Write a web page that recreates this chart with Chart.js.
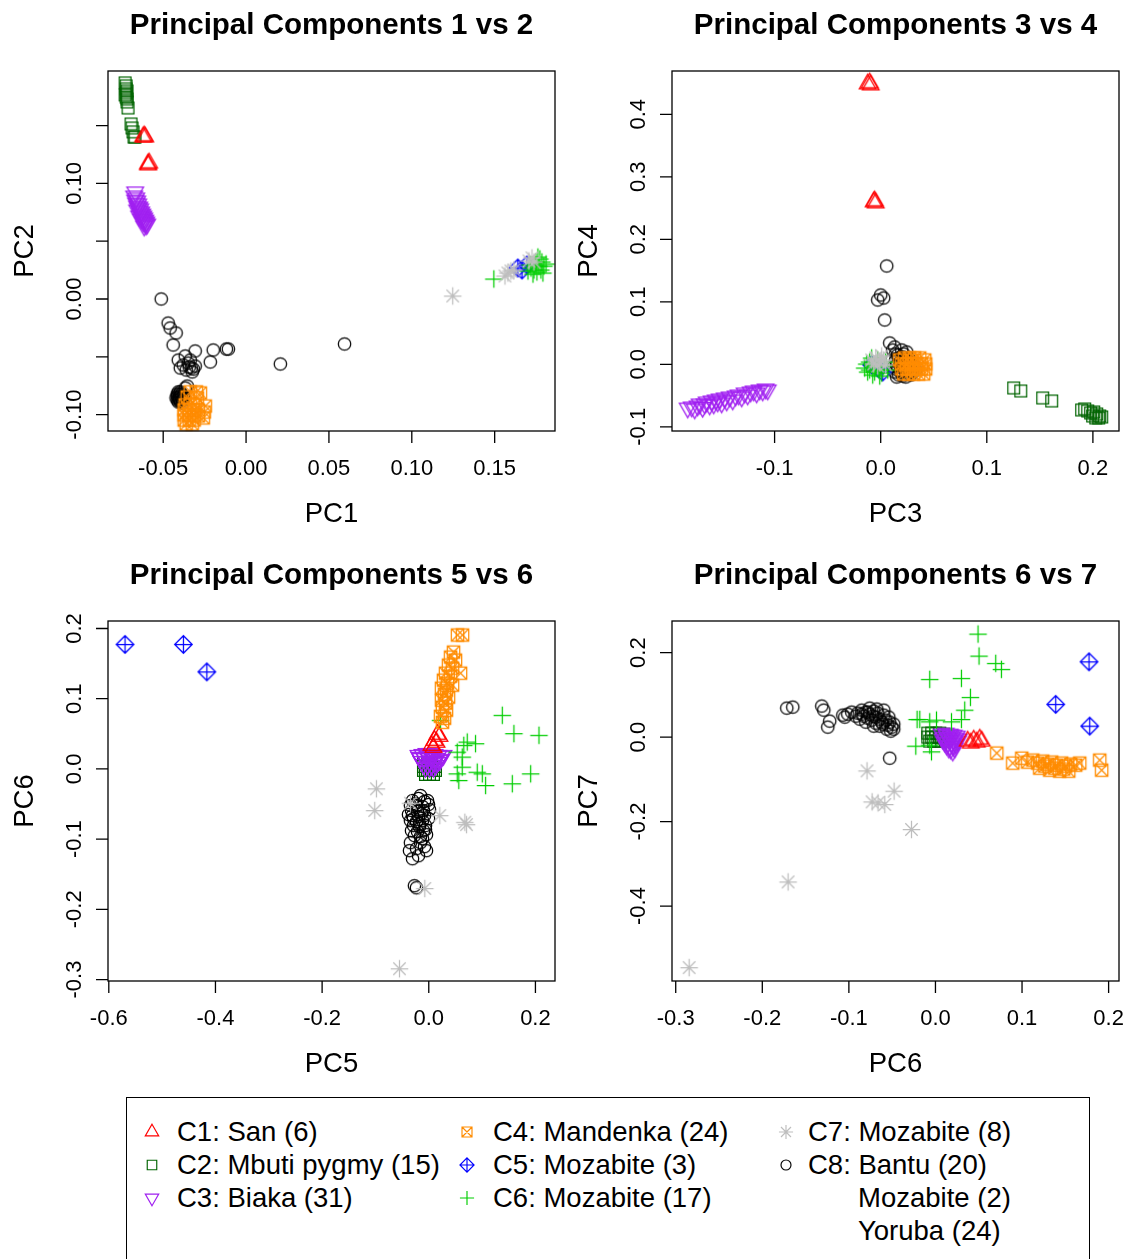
<!DOCTYPE html>
<html lang="en">
<head>
<meta charset="UTF-8">
<title>Principal Components</title>
<style>
  body { margin: 0; background: #fff; }
  #page { position: relative; width: 1128px; height: 1259px; overflow: hidden; font-family: "Liberation Sans", Arial, sans-serif; }
  #page canvas.panel { position: absolute; }
  #legend { position: absolute; left: 126px; top: 1097px; width: 964px; height: 220px; border: 1.3px solid #000; box-sizing: border-box; }
  .item { position: absolute; height: 34px; line-height: 34px; font-size: 27.5px; white-space: nowrap; color: #000; }
  .mark { position: absolute; }
</style>
</head>
<body>
<div id="page">
  <canvas id="c1" class="panel" width="564" height="540" style="left:0;top:0"></canvas>
  <canvas id="c2" class="panel" width="564" height="540" style="left:564px;top:0"></canvas>
  <canvas id="c3" class="panel" width="564" height="540" style="left:0;top:550px"></canvas>
  <canvas id="c4" class="panel" width="564" height="540" style="left:564px;top:550px"></canvas>
  <div id="legend"></div>
</div>

<script src="https://cdn.jsdelivr.net/npm/chart.js@4.4.0/dist/chart.umd.min.js"></script>
<script>
// groups (legend order)
const groups = ['C1: San (6)', 'C2: Mbuti pygmy (15)', 'C3: Biaka (31)', 'C4: Mandenka (24)',
                'C5: Mozabite (3)', 'C6: Mozabite (17)', 'C7: Mozabite (8)', 'C8: Bantu (20)'];
const c8Extra = ['Mozabite (2)', 'Yoruba (24)'];

// ---- Panel 1: PC1 vs PC2 ----
const p1C1 = [[-0.0621,0.1401],[-0.0615,0.1410],[-0.0609,0.1401],[-0.0591,0.1168],[-0.0585,0.1176],[-0.0591,0.1159]];
const p1C2 = [[-0.0730,0.1869],[-0.0724,0.1843],[-0.0724,0.1817],[-0.0718,0.1799],[-0.0724,0.1782],[-0.0730,0.1765],[-0.0724,0.1747],[-0.0718,0.1730],[-0.0718,0.1704],[-0.0712,0.1652],[-0.0694,0.1514],[-0.0688,0.1479],[-0.0682,0.1445],[-0.0676,0.1401],[-0.0670,0.1401]];
const p1C3 = [[-0.0669,0.0926],[-0.0675,0.0891],[-0.0663,0.0874],[-0.0669,0.0856],[-0.0657,0.0848],[-0.0663,0.0830],[-0.0651,0.0822],[-0.0657,0.0804],[-0.0645,0.0796],[-0.0651,0.0787],[-0.0639,0.0779],[-0.0645,0.0761],[-0.0633,0.0753],[-0.0639,0.0744],[-0.0627,0.0735],[-0.0633,0.0727],[-0.0621,0.0718],[-0.0627,0.0709],[-0.0615,0.0701],[-0.0621,0.0692],[-0.0609,0.0683],[-0.0615,0.0675],[-0.0603,0.0666],[-0.0609,0.0657],[-0.0597,0.0649],[-0.0603,0.0640],[-0.0615,0.0631],[-0.0621,0.0666],[-0.0633,0.0692],[-0.0645,0.0718],[-0.0657,0.0770]];
const p1C4 = [[-0.0337,-0.0804],[-0.0300,-0.0804],[-0.0276,-0.0813],[-0.0355,-0.0848],[-0.0294,-0.0856],[-0.0246,-0.0926],[-0.0252,-0.0978],[-0.0258,-0.1029],[-0.0367,-0.0917],[-0.0337,-0.0917],[-0.0307,-0.0917],[-0.0373,-0.0960],[-0.0343,-0.0960],[-0.0313,-0.0960],[-0.0288,-0.0960],[-0.0373,-0.1003],[-0.0343,-0.1003],[-0.0313,-0.1003],[-0.0288,-0.1012],[-0.0373,-0.1047],[-0.0343,-0.1047],[-0.0313,-0.1047],[-0.0361,-0.1081],[-0.0325,-0.1081]];
const p1C5 = [[0.1640,0.0268],[0.1665,0.0251],[0.1695,0.0294]];
const p1C6 = [[0.1495,0.0173],[0.1701,0.0242],[0.1719,0.0268],[0.1731,0.0216],[0.1749,0.0320],[0.1761,0.0363],[0.1767,0.0285],[0.1779,0.0251],[0.1785,0.0320],[0.1797,0.0285],[0.1755,0.0234],[0.1743,0.0285],[0.1773,0.0346],[0.1791,0.0225],[0.1737,0.0251],[0.1810,0.0303],[0.1713,0.0294]];
const p1C7 = [[0.1247,0.0026],[0.1562,0.0199],[0.1580,0.0225],[0.1598,0.0242],[0.1616,0.0251],[0.1707,0.0329],[0.1725,0.0355],[0.1737,0.0320]];
const p1C8 = [[-0.0512,0.0000],[-0.0470,-0.0208],[-0.0458,-0.0251],[-0.0422,-0.0294],[-0.0440,-0.0398],[-0.0307,-0.0450],[-0.0198,-0.0441],[-0.0119,-0.0433],[-0.0107,-0.0433],[-0.0216,-0.0545],[-0.0409,-0.0528],[-0.0397,-0.0597],[-0.0337,-0.0528],[-0.0331,-0.0597],[-0.0318,-0.0606],[-0.0343,-0.0588],[0.0207,-0.0562],[0.0594,-0.0389],[-0.0355,-0.0753],[-0.0367,-0.0770],
  [-0.0409,-0.0804],[-0.0403,-0.0822],[-0.0415,-0.0839],[-0.0397,-0.0839],[-0.0409,-0.0856],[-0.0391,-0.0856],[-0.0403,-0.0874],[-0.0415,-0.0874],[-0.0397,-0.0891],[-0.0385,-0.0874],[-0.0422,-0.0856],[-0.0409,-0.0891],[-0.0391,-0.0822],[-0.0379,-0.0839],[-0.0397,-0.0804],[-0.0403,-0.0848],[-0.0385,-0.0900],[-0.0373,-0.0856],[-0.0415,-0.0822],[-0.0403,-0.0865],
  [-0.0361,-0.0614],[-0.0325,-0.0631],[-0.0349,-0.0554],[-0.0307,-0.0580],[-0.0379,-0.0571],[-0.0367,-0.0493]];

// ---- Panel 2: PC3 vs PC4 ----
const p2C1 = [[-0.0123,0.4485],[-0.0104,0.4501],[-0.0094,0.4469],[-0.0066,0.2597],[-0.0057,0.2613],[-0.0047,0.2581]];
const p2C2 = [[0.1254,-0.0379],[0.1320,-0.0427],[0.1527,-0.0539],[0.1612,-0.0587],[0.1894,-0.0731],[0.1923,-0.0715],[0.1951,-0.0747],[0.1979,-0.0779],[0.2008,-0.0763],[0.2036,-0.0795],[0.2064,-0.0827],[0.1998,-0.0827],[0.2027,-0.0859],[0.2055,-0.0859],[0.2083,-0.0843]];
const p2C3 = [[-0.1819,-0.0700],[-0.1781,-0.0683],[-0.1753,-0.0715],[-0.1725,-0.0667],[-0.1706,-0.0635],[-0.1678,-0.0690],[-0.1659,-0.0635],[-0.1640,-0.0603],[-0.1612,-0.0651],[-0.1593,-0.0587],[-0.1574,-0.0635],[-0.1555,-0.0571],[-0.1536,-0.0603],[-0.1517,-0.0555],[-0.1499,-0.0619],[-0.1470,-0.0539],[-0.1451,-0.0587],[-0.1423,-0.0523],[-0.1395,-0.0571],[-0.1367,-0.0507],[-0.1339,-0.0491],[-0.1310,-0.0523],[-0.1282,-0.0459],[-0.1254,-0.0491],[-0.1225,-0.0443],[-0.1197,-0.0427],[-0.1169,-0.0459],[-0.1140,-0.0411],[-0.1112,-0.0427],[-0.1084,-0.0395],[-0.1065,-0.0411]];
const p2C4 = [[0.0179,0.0069],[0.0226,0.0101],[0.0273,0.0101],[0.0320,0.0101],[0.0368,0.0101],[0.0415,0.0069],[0.0198,0.0005],[0.0245,0.0005],[0.0292,0.0005],[0.0339,0.0005],[0.0386,0.0005],[0.0424,0.0005],[0.0198,-0.0075],[0.0245,-0.0075],[0.0292,-0.0075],[0.0339,-0.0075],[0.0386,-0.0075],[0.0424,-0.0075],[0.0217,-0.0155],[0.0264,-0.0155],[0.0311,-0.0155],[0.0358,-0.0155],[0.0405,-0.0155],[0.0292,0.0069]];
const p2C5 = [[-0.0085,-0.0011],[-0.0028,-0.0059],[0.0019,-0.0123]];
const p2C6 = [[-0.0151,-0.0059],[-0.0123,-0.0123],[-0.0104,0.0037],[-0.0075,-0.0171],[-0.0047,-0.0027],[-0.0019,-0.0091],[-0.0085,0.0101],[-0.0132,0.0005],[-0.0009,-0.0187],[-0.0057,-0.0123],[0.0028,-0.0027],[0.0066,-0.0091],[-0.0104,-0.0091],[-0.0028,0.0069],[0.0009,-0.0139],[-0.0066,-0.0027],[0.0047,0.0037]];
const p2C7 = [[-0.0085,0.0069],[-0.0047,0.0101],[-0.0009,0.0037],[0.0028,0.0069],[-0.0028,-0.0027],[-0.0066,0.0005],[0.0009,0.0133],[0.0047,-0.0011]];
const p2C8 = [[0.0057,0.1573],[0.0000,0.1109],[-0.0028,0.1029],[0.0028,0.1061],[0.0038,0.0709],[0.0085,0.0341],[0.0132,0.0277],[0.0198,0.0229],[0.0245,0.0197],[0.0113,0.0229],[0.0160,0.0149],[0.0207,0.0117],[0.0141,0.0069],[0.0179,0.0037],[0.0217,0.0069],[0.0151,-0.0011],[0.0189,-0.0043],[0.0226,-0.0011],[0.0160,-0.0091],[0.0198,-0.0123],[0.0236,-0.0091],[0.0170,-0.0171],[0.0207,-0.0187],[0.0123,-0.0027],[0.0104,0.0069],[0.0264,0.0101],[0.0292,0.0037],[0.0254,-0.0059],[0.0273,-0.0123],[0.0132,-0.0123],
  [0.0311,-0.0027],[0.0330,-0.0091],[0.0283,-0.0171],[0.0245,-0.0155],[0.0226,0.0037],[0.0170,0.0101],[0.0141,0.0165],[0.0217,0.0165],[0.0254,0.0069],[0.0302,-0.0123],[0.0189,-0.0123],[0.0151,-0.0203],[0.0236,-0.0203],[0.0273,0.0005],[0.0207,-0.0059],[0.0179,-0.0011]];

// ---- Panel 3: PC5 vs PC6 ----
const p3C1 = [[0.0163,0.0493],[0.0201,0.0464],[0.0107,0.0407],[0.0145,0.0379],[0.0051,0.0336],[0.0088,0.0307]];
const p3C2 = [[-0.0100,0.0093],[-0.0024,0.0093],[0.0051,0.0093],[0.0126,0.0093],[-0.0100,0.0036],[-0.0024,0.0036],[0.0051,0.0036],[0.0126,0.0036],[-0.0100,-0.0021],[-0.0024,-0.0021],[0.0051,-0.0021],[0.0126,-0.0021],[-0.0062,-0.0079],[0.0013,-0.0079],[0.0088,-0.0079]];
const p3C3 = [[-0.0193,0.0193],[-0.0118,0.0207],[-0.0043,0.0221],[0.0032,0.0221],[0.0107,0.0207],[0.0182,0.0193],[0.0239,0.0179],[-0.0156,0.0150],[-0.0081,0.0150],[-0.0006,0.0164],[0.0069,0.0150],[0.0145,0.0150],[0.0220,0.0136],[-0.0137,0.0107],[-0.0062,0.0107],[0.0013,0.0107],[0.0088,0.0093],[0.0163,0.0093],[-0.0100,0.0064],[-0.0024,0.0064],[0.0051,0.0050],[0.0126,0.0050],[-0.0062,0.0021],[0.0013,0.0021],[0.0088,0.0021],[-0.0175,0.0164],[0.0276,0.0193],[-0.0024,0.0179],[0.0051,0.0179],[0.0126,0.0107],[0.0201,0.0121]];
const p3C4 = [[0.0539,0.1907],[0.0633,0.1907],[0.0464,0.1664],[0.0409,0.1593],[0.0501,0.1550],[0.0370,0.1479],[0.0445,0.1436],[0.0595,0.1364],[0.0314,0.1364],[0.0409,0.1321],[0.0276,0.1264],[0.0351,0.1221],[0.0445,0.1193],[0.0239,0.1150],[0.0332,0.1121],[0.0295,0.1064],[0.0370,0.1021],[0.0239,0.0979],[0.0314,0.0936],[0.0257,0.0879],[0.0332,0.0836],[0.0220,0.0750],[0.0295,0.0721],[0.0257,0.0664]];
const p3C5 = [[-0.5696,0.1774],[-0.4601,0.1774],[-0.4162,0.1383]];
const p3C6 = [[0.1378,0.0764],[0.1596,0.0503],[0.2066,0.0479],[0.0721,0.0383],[0.0877,0.0360],[0.0657,0.0336],[0.0533,0.0240],[0.0627,0.0169],[0.0627,0.0026],[0.0909,-0.0046],[0.1003,-0.0069],[0.0563,-0.0164],[0.1065,-0.0236],[0.1566,-0.0211],[0.1910,-0.0069],[0.0220,0.0693],[0.0533,-0.0069]];
const p3C7 = [[-0.0982,-0.0283],[-0.1014,-0.0593],[-0.0344,-0.0489],[0.0207,-0.0664],[0.0676,-0.0760],[0.0708,-0.0793],[-0.0075,-0.1703],[-0.0550,-0.2846]];
const p3C8 = [[-0.0306,-0.0450],[-0.0193,-0.0421],[-0.0081,-0.0464],[-0.0344,-0.0521],[-0.0231,-0.0521],[-0.0118,-0.0536],[-0.0006,-0.0507],[-0.0325,-0.0593],[-0.0212,-0.0607],[-0.0100,-0.0593],[0.0013,-0.0579],[-0.0306,-0.0664],[-0.0193,-0.0679],[-0.0081,-0.0664],[-0.0344,-0.0736],[-0.0231,-0.0750],[-0.0118,-0.0736],[-0.0006,-0.0707],[-0.0287,-0.0807],[-0.0175,-0.0821],[-0.0062,-0.0807],[-0.0325,-0.0879],[-0.0212,-0.0893],[-0.0100,-0.0879],[-0.0269,-0.0950],[-0.0156,-0.0964],[-0.0043,-0.0936],[-0.0250,-0.0493],[-0.0137,-0.0636],[-0.0287,-0.0707],[-0.0175,-0.0779],[-0.0062,-0.0864],
  [-0.0344,-0.1050],[-0.0156,-0.1050],[-0.0043,-0.1164],[-0.0193,-0.1236],[-0.0306,-0.1279],[-0.0081,-0.1107],[-0.0231,-0.1136],[-0.0269,-0.1664],[-0.0231,-0.1693],[-0.0362,-0.1164],[-0.0118,-0.0993],[-0.0024,-0.0450],[-0.0156,-0.0379],[-0.0381,-0.0650]];

// ---- Panel 4: PC6 vs PC7 ----
const p4C1 = [[0.0373,-0.0095],[0.0408,-0.0142],[0.0442,-0.0071],[0.0477,-0.0118],[0.0512,-0.0047],[0.0535,-0.0095]];
const p4C2 = [[-0.0089,0.0095],[-0.0043,0.0095],[0.0003,0.0095],[0.0050,0.0095],[0.0096,0.0071],[-0.0089,0.0000],[-0.0043,0.0000],[0.0003,0.0000],[0.0050,0.0000],[0.0096,-0.0024],[-0.0066,-0.0095],[-0.0020,-0.0095],[0.0027,-0.0095],[0.0073,-0.0095],[0.0119,-0.0071]];
const p4C3 = [[0.0073,0.0071],[0.0119,0.0095],[0.0165,0.0071],[0.0211,0.0047],[0.0096,0.0000],[0.0142,0.0000],[0.0188,0.0000],[0.0234,-0.0024],[0.0119,-0.0071],[0.0165,-0.0071],[0.0211,-0.0071],[0.0258,-0.0095],[0.0142,-0.0142],[0.0188,-0.0142],[0.0234,-0.0166],[0.0165,-0.0213],[0.0211,-0.0213],[0.0177,-0.0284],[0.0223,-0.0261],[0.0084,-0.0047],[0.0130,-0.0190],[0.0200,-0.0332],[0.0154,-0.0024],[0.0107,-0.0118],[0.0246,0.0024],[0.0269,-0.0047],[0.0177,0.0047],[0.0223,-0.0118],[0.0130,0.0047],[0.0200,-0.0190],[0.0154,-0.0261]];
const p4C4 = [[0.0708,-0.0379],[0.0893,-0.0616],[0.0997,-0.0498],[0.1066,-0.0592],[0.1124,-0.0545],[0.1181,-0.0616],[0.1239,-0.0569],[0.1297,-0.0640],[0.1343,-0.0592],[0.1400,-0.0664],[0.1458,-0.0616],[0.1504,-0.0687],[0.1562,-0.0640],[0.1620,-0.0664],[0.1666,-0.0616],[0.1204,-0.0735],[0.1320,-0.0782],[0.1435,-0.0806],[0.1262,-0.0687],[0.1377,-0.0735],[0.1481,-0.0758],[0.1539,-0.0806],[0.1897,-0.0545],[0.1920,-0.0782]];
const p4C5 = [[0.1774,0.1784],[0.1389,0.0775],[0.1782,0.0261]];
const p4C6 = [[0.0492,0.2441],[0.0503,0.1919],[0.0696,0.1746],[0.0762,0.1604],[-0.0066,0.1367],[0.0300,0.1391],[0.0404,0.0941],[0.0338,0.0640],[0.0300,0.0419],[0.0185,0.0363],[0.0012,0.0403],[-0.0066,0.0363],[-0.0212,0.0419],[-0.0181,0.0419],[-0.0227,-0.0213],[-0.0066,-0.0190],[-0.0046,-0.0348]];
const p4C7 = [[-0.0790,-0.0799],[-0.0732,-0.1533],[-0.0663,-0.1557],[-0.0585,-0.1595],[-0.0478,-0.1280],[-0.0277,-0.2187],[-0.1702,-0.3429],[-0.2845,-0.5457]];
const p4C8 = [[-0.1717,0.0687],[-0.1648,0.0711],[-0.1313,0.0735],[-0.1290,0.0640],[-0.1221,0.0379],[-0.1244,0.0237],[-0.1070,0.0521],[-0.1047,0.0474],[-0.0897,0.0569],[-0.0851,0.0640],[-0.0805,0.0592],[-0.0759,0.0545],[-0.0712,0.0616],[-0.0782,0.0450],[-0.0736,0.0403],[-0.0689,0.0474],[-0.0828,0.0498],[-0.0666,0.0569],[-0.0643,0.0427],[-0.0597,0.0521],[-0.0620,0.0355],[-0.0574,0.0403],[-0.0551,0.0284],[-0.0528,0.0355],[-0.0562,0.0190],[-0.0505,0.0237],[-0.0516,0.0142],[-0.0482,0.0308],[-0.0874,0.0427],[-0.0920,0.0498],
  [-0.0759,0.0687],[-0.0689,0.0332],[-0.0643,0.0261],[-0.0805,0.0355],[-0.0724,0.0498],[-0.0597,0.0640],[-0.0851,0.0545],[-0.0782,0.0592],[-0.0678,0.0664],[-0.0609,0.0308],[-0.0539,0.0474],[-0.0967,0.0592],[-0.1013,0.0545],[-0.0712,0.0261],[-0.0482,0.0190],[-0.0528,-0.0498]];

// ---- axes: ranges, ticks, tick labels ----
const p1XRange = [-0.0833, 0.1864], p1YRange = [-0.1142, 0.1972];
const p1XTicks = [-0.05, 0, 0.05, 0.10, 0.15], p1XLabels = ['-0.05', '0.00', '0.05', '0.10', '0.15'];
const p1YTicks = [-0.10, -0.05, 0, 0.05, 0.10, 0.15], p1YLabels = ['-0.10', '', '0.00', '', '0.10', ''];

const p2XRange = [-0.1967, 0.2246], p2YRange = [-0.1067, 0.4693];
const p2XTicks = [-0.1, 0, 0.1, 0.2], p2XLabels = ['-0.1', '0.0', '0.1', '0.2'];
const p2YTicks = [-0.1, 0, 0.1, 0.2, 0.3, 0.4], p2YLabels = ['-0.1', '0.0', '0.1', '0.2', '0.3', '0.4'];

const p3XRange = [-0.6015, 0.2367], p3YRange = [-0.3021, 0.2107];
const p3XTicks = [-0.6, -0.4, -0.2, 0, 0.2], p3XLabels = ['-0.6', '-0.4', '-0.2', '0.0', '0.2'];
const p3YTicks = [-0.3, -0.2, -0.1, 0, 0.1, 0.2], p3YLabels = ['-0.3', '-0.2', '-0.1', '0.0', '0.1', '0.2'];

const p4XRange = [-0.3043, 0.2120], p4YRange = [-0.5775, 0.2749];
const p4XTicks = [-0.3, -0.2, -0.1, 0, 0.1, 0.2], p4XLabels = ['-0.3', '-0.2', '-0.1', '0.0', '0.1', '0.2'];
const p4YTicks = [-0.4, -0.2, 0, 0.2], p4YLabels = ['-0.4', '-0.2', '0.0', '0.2'];

// styles
const colors = ['#FF0000', '#006400', '#A020F0', '#FF8C00', '#0000FF', '#00CD00', '#BEBEBE', '#000000'];
const shapes = ['triUp', 'square', 'triDown', 'squareX', 'diamondPlus', 'plus', 'asterisk', 'circle'];
const drawOrder = [5, 7, 6, 1, 4, 3, 2, 8]; // higher = drawn underneath

// R style plotting symbols drawn onto small canvases
function makeMarker(shape, color, r, lw) {
  const s = Math.ceil(r * 3.6) + 4;
  const c = document.createElement('canvas');
  c.width = s; c.height = s;
  const g = c.getContext('2d');
  g.translate(s / 2, s / 2);
  g.strokeStyle = color;
  g.lineWidth = lw;
  g.beginPath();
  const d = Math.SQRT2 * r;
  if (shape === 'triUp' || shape === 'triDown') {
    const k = shape === 'triUp' ? 1 : -1;
    g.moveTo(0, -1.555 * r * k);
    g.lineTo(1.347 * r, 0.778 * r * k);
    g.lineTo(-1.347 * r, 0.778 * r * k);
    g.closePath();
  } else if (shape === 'square') {
    const h = 0.95 * r;
    g.rect(-h, -h, 2 * h, 2 * h);
  } else if (shape === 'squareX') {
    g.rect(-r, -r, 2 * r, 2 * r);
    g.moveTo(-r, -r); g.lineTo(r, r);
    g.moveTo(-r, r); g.lineTo(r, -r);
  } else if (shape === 'diamondPlus') {
    g.moveTo(0, -d); g.lineTo(d, 0); g.lineTo(0, d); g.lineTo(-d, 0); g.closePath();
    g.moveTo(-d, 0); g.lineTo(d, 0);
    g.moveTo(0, -d); g.lineTo(0, d);
  } else if (shape === 'plus') {
    g.moveTo(-d, 0); g.lineTo(d, 0);
    g.moveTo(0, -d); g.lineTo(0, d);
  } else if (shape === 'asterisk') {
    g.moveTo(-r, -r); g.lineTo(r, r);
    g.moveTo(-r, r); g.lineTo(r, -r);
    g.moveTo(-d, 0); g.lineTo(d, 0);
    g.moveTo(0, -d); g.lineTo(0, d);
  } else {
    g.arc(0, 0, r, 0, Math.PI * 2);
  }
  g.stroke();
  return c;
}

const plotMarkers = shapes.map((s, i) => makeMarker(s, colors[i], 6.2, 1.25));

// box, ticks, labels and titles in base-R look
const rFrame = {
  id: 'rFrame',
  afterDraw(chart, args, o) {
    const { ctx, chartArea: a, scales: { x, y } } = chart;
    ctx.save();
    ctx.strokeStyle = '#000';
    ctx.lineWidth = 1.3;
    ctx.strokeRect(a.left, a.top, a.right - a.left, a.bottom - a.top);
    ctx.beginPath();
    o.xTicks.forEach(v => { const p = x.getPixelForValue(v); ctx.moveTo(p, a.bottom); ctx.lineTo(p, a.bottom + 12); });
    o.yTicks.forEach(v => { const p = y.getPixelForValue(v); ctx.moveTo(a.left, p); ctx.lineTo(a.left - 12, p); });
    ctx.stroke();

    ctx.fillStyle = '#000';
    ctx.textAlign = 'center';
    ctx.textBaseline = 'middle';
    ctx.font = '22px "Liberation Sans", Arial, sans-serif';
    o.xTicks.forEach((v, i) => ctx.fillText(o.xLabels[i], x.getPixelForValue(v), a.bottom + 38));
    o.yTicks.forEach((v, i) => {
      if (!o.yLabels[i]) return;
      ctx.save();
      ctx.translate(a.left - 33, y.getPixelForValue(v));
      ctx.rotate(-Math.PI / 2);
      ctx.fillText(o.yLabels[i], 0, 0);
      ctx.restore();
    });

    const cx = (a.left + a.right) / 2, cy = (a.top + a.bottom) / 2;
    ctx.font = '27.5px "Liberation Sans", Arial, sans-serif';
    ctx.fillText(o.xTitle, cx, a.bottom + 83);
    ctx.save();
    ctx.translate(a.left - 83, cy);
    ctx.rotate(-Math.PI / 2);
    ctx.fillText(o.yTitle, 0, 0);
    ctx.restore();

    ctx.font = 'bold 29.5px "Liberation Sans", Arial, sans-serif';
    ctx.fillText(o.title, cx, a.top - 45);
    ctx.restore();
  }
};

function drawPanel(id, sets, xr, yr, xt, xl, yt, yl, title, xTitle, yTitle) {
  const datasets = sets.map((pts, i) => ({
    label: groups[i],
    data: pts.map(p => ({ x: p[0], y: p[1] })),
    pointStyle: plotMarkers[i],
    pointRadius: 6,
    order: drawOrder[i],
    clip: false
  }));
  return new Chart(document.getElementById(id), {
    type: 'scatter',
    data: { datasets: datasets },
    options: {
      responsive: false,
      animation: false,
      events: [],
      layout: { padding: { left: 108, right: 9, top: 71, bottom: 109 } },
      scales: {
        x: { type: 'linear', min: xr[0], max: xr[1], display: false },
        y: { type: 'linear', min: yr[0], max: yr[1], display: false }
      },
      plugins: {
        legend: { display: false },
        tooltip: { enabled: false },
        rFrame: { xTicks: xt, xLabels: xl, yTicks: yt, yLabels: yl, title: title, xTitle: xTitle, yTitle: yTitle }
      }
    },
    plugins: [rFrame]
  });
}

drawPanel('c1', [p1C1, p1C2, p1C3, p1C4, p1C5, p1C6, p1C7, p1C8], p1XRange, p1YRange,
  p1XTicks, p1XLabels, p1YTicks, p1YLabels, 'Principal Components 1 vs 2', 'PC1', 'PC2');
drawPanel('c2', [p2C1, p2C2, p2C3, p2C4, p2C5, p2C6, p2C7, p2C8], p2XRange, p2YRange,
  p2XTicks, p2XLabels, p2YTicks, p2YLabels, 'Principal Components 3 vs 4', 'PC3', 'PC4');
drawPanel('c3', [p3C1, p3C2, p3C3, p3C4, p3C5, p3C6, p3C7, p3C8], p3XRange, p3YRange,
  p3XTicks, p3XLabels, p3YTicks, p3YLabels, 'Principal Components 5 vs 6', 'PC5', 'PC6');
drawPanel('c4', [p4C1, p4C2, p4C3, p4C4, p4C5, p4C6, p4C7, p4C8], p4XRange, p4YRange,
  p4XTicks, p4XLabels, p4YTicks, p4YLabels, 'Principal Components 6 vs 7', 'PC6', 'PC7');

// legend (three columns, like R's legend(ncol = 3))
const page = document.getElementById('page');
const colMarkX = [152, 467, 786], colTextX = [177, 493, 808], rowY = [1132, 1165, 1198, 1231];
function addText(txt, x, yc) {
  const d = document.createElement('div');
  d.className = 'item';
  d.textContent = txt;
  d.style.left = x + 'px';
  d.style.top = (yc - 17) + 'px';
  page.appendChild(d);
}
groups.forEach((g, i) => {
  const col = Math.floor(i / 3), row = i % 3;
  const m = makeMarker(shapes[i], colors[i], 5, 1.15);
  m.className = 'mark';
  m.style.left = (colMarkX[col] - m.width / 2) + 'px';
  m.style.top = (rowY[row] - m.height / 2) + 'px';
  page.appendChild(m);
  addText(g, colTextX[col], rowY[row]);
});
c8Extra.forEach((t, i) => addText(t, 858, rowY[2 + i]));
</script>
</body>
</html>
